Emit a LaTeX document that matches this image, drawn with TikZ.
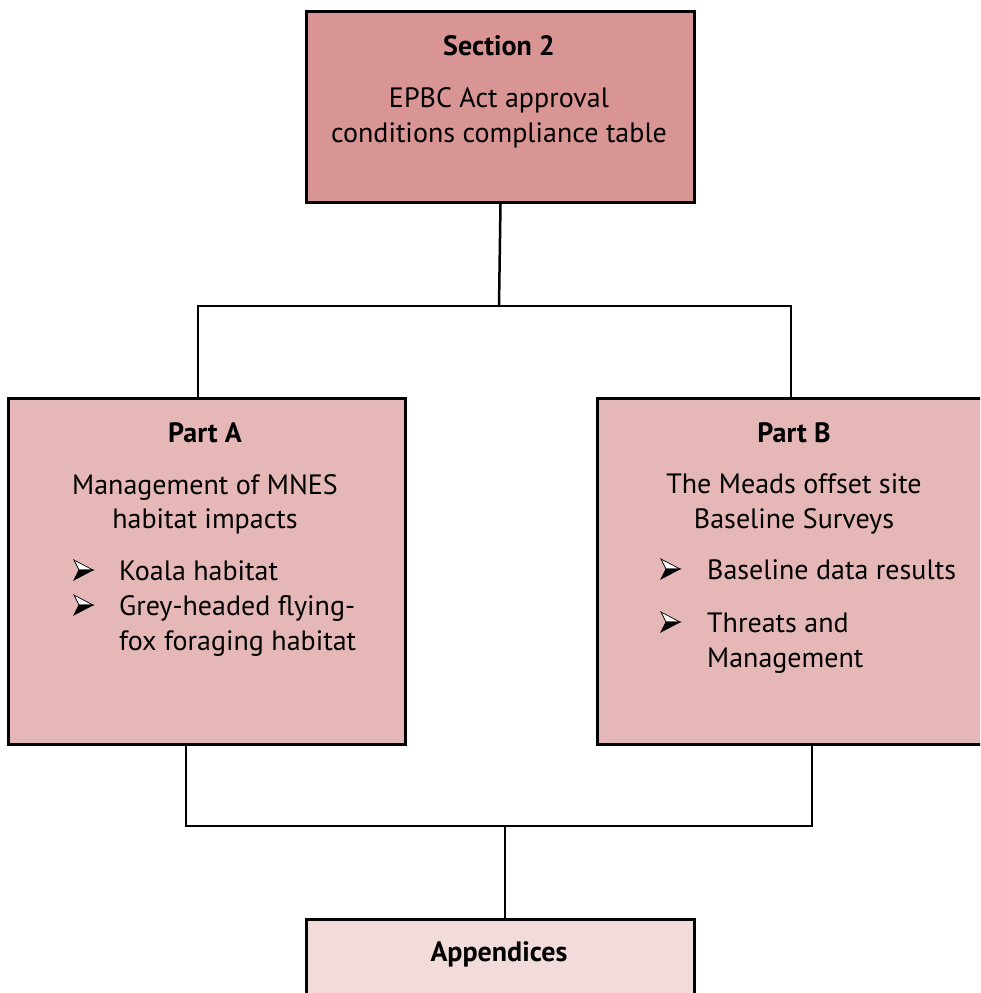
\documentclass[tikz,border=0pt]{standalone}
\usepackage{fontspec}
\setmainfont{PT Sans}
\definecolor{secfill}{HTML}{D99594}
\definecolor{partfill}{HTML}{E5B8B7}
\definecolor{appfill}{HTML}{F2DBDB}
\tikzset{
  box/.style={draw=black, line width=3pt, inner sep=0pt, anchor=north west},
  conn/.style={draw=black, line width=2.5pt},
  txt/.style={inner sep=0pt, anchor=base, font=\fontsize{28}{33}\selectfont},
  hd/.style={inner sep=0pt, anchor=base, font=\fontsize{28}{33}\selectfont\bfseries},
  btxt/.style={txt, anchor=base west},
  bulup/.style={fill=white, draw=black, line width=0.7pt, line join=miter},
  buldn/.style={fill=black, draw=black, line width=0.7pt, line join=miter},
}
\newcommand\arrbullet[2]{%
  \path[bulup] (#1,#2-10) -- (#1+19,#2) -- (#1+5,#2) -- cycle;
  \path[buldn] (#1,#2+10) -- (#1+19,#2) -- (#1+5,#2) -- cycle;
}
\begin{document}
\begin{tikzpicture}[x=1pt, y=-1pt]
\useasboundingbox (0,0) rectangle (980,993);
\clip (0,0) rectangle (980,993);
% boxes
\node[box, fill=secfill, minimum width=388pt, minimum height=191pt] (sec) at (305,10) {};
\node[box, fill=partfill, minimum width=397pt, minimum height=346pt] (partA) at (7,397) {};
\node[box, fill=partfill, minimum width=396pt, minimum height=346pt] (partB) at (596,397) {};
\node[box, fill=appfill, minimum width=388pt, minimum height=100pt] (app) at (305,918) {};
% connectors
\coordinate (j1) at (499,306);
\coordinate (jl) at (198,306);
\coordinate (jr) at (791,306);
\draw[conn] (sec.south) -- (j1);
\draw[conn] (jl |- partA.north) -- (jl) -- (jr) -- (jr |- partB.north);
\coordinate (kl) at (186,826);
\coordinate (kr) at (812,826);
\coordinate (km) at (505,826);
\draw[conn] (kl |- partA.south) -- (kl) -- (kr) -- (kr |- partB.south);
\draw[conn] (km) -- (km |- app.north);
% section 2 text
\node[hd] (s1) at (499,55) {Section 2};
\node[txt] (s2) at (499,107) {EPBC Act approval};
\node[txt] (s3) at (499,142) {conditions compliance table};
% part A text
\node[hd] (a1) at (205,442) {Part A};
\node[txt] (a2) at (205,494) {Management of MNES};
\node[txt] (a3) at (205,528) {habitat impacts};
\arrbullet{74}{570}
\node[btxt] (a4) at (119,580) {Koala habitat};
\arrbullet{74}{605}
\node[btxt] (a5) at (119,615) {Grey-headed flying-};
\node[btxt] (a6) at (119,650) {fox foraging habitat};
% part B text
\node[hd] (b1) at (794,442) {Part B};
\node[txt] (b2) at (794,493) {The Meads offset site};
\node[txt] (b3) at (794,528) {Baseline Surveys};
\arrbullet{661}{569}
\node[btxt] (b4) at (707,579) {Baseline data results};
\arrbullet{661}{622}
\node[btxt] (b5) at (707,632) {Threats and};
\node[btxt] (b6) at (707,667) {Management};
% appendices
\node[hd] (ap) at (499,961) {Appendices};
\end{tikzpicture}
\end{document}
